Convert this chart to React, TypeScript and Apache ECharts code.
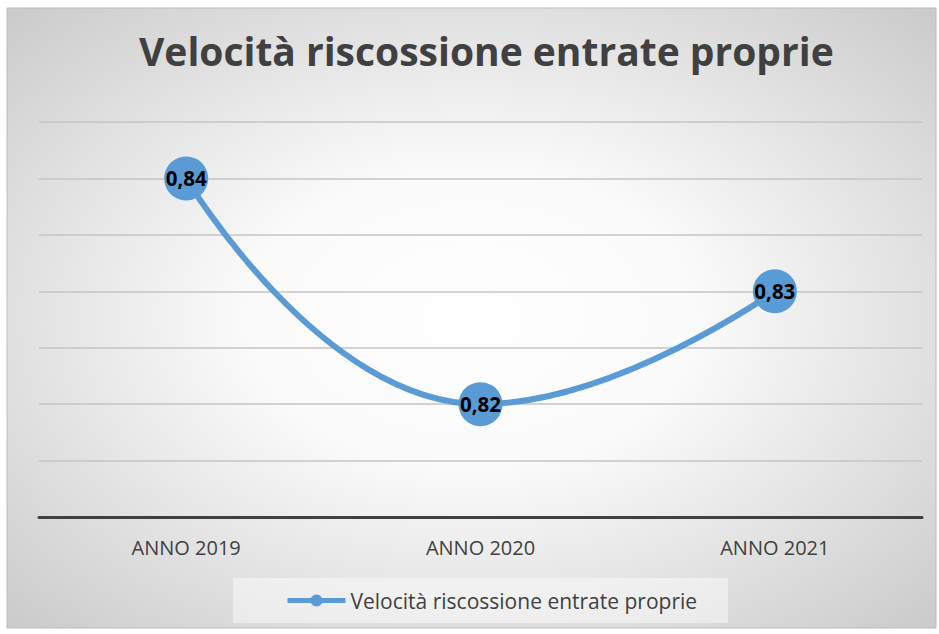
import React, { useEffect, useRef } from "react";
import * as echarts from "echarts";

const categories = ["ANNO 2019", "ANNO 2020", "ANNO 2021"];
const values = [0.84, 0.82, 0.83];
const seriesName = "Velocità riscossione entrate proprie";
const titleText = "Velocità riscossione entrate proprie";

export default function App() {
  const ref = useRef<HTMLDivElement>(null);
  useEffect(() => {
    document.body.style.margin = "0";
    const chart = echarts.init(ref.current!, null, { renderer: "svg" });
    const font = "'Open Sans', sans-serif";
    chart.setOption({
      animation: false,
      backgroundColor: "#ffffff",
      graphic: [
        {
          type: "rect",
          z: -10,
          silent: true,
          shape: { x: 7, y: 8, width: 929, height: 620 },
          style: {
            fill: {
              type: "radial",
              x: 0.5,
              y: 0.5,
              r: 0.7,
              colorStops: [
                { offset: 0, color: "#ffffff" },
                { offset: 0.35, color: "#fafafa" },
                { offset: 1, color: "#cbcbcb" },
              ],
              global: false,
            },
            stroke: "#bdbdbd",
            lineWidth: 1,
          },
        },
        {
          type: "rect",
          z: -5,
          silent: true,
          shape: { x: 233, y: 578, width: 495, height: 45 },
          style: { fill: "rgba(255,255,255,0.45)" },
        },
      ],
      title: {
        text: titleText,
        left: 134,
        top: 26,
        textStyle: {
          fontFamily: font,
          fontWeight: "bold",
          fontSize: 39,
          color: "#404040",
        },
      },
      grid: { left: 39, right: 17, top: 122, bottom: 117 },
      legend: {
        data: [seriesName],
        bottom: 18,
        left: 280,
        itemWidth: 58,
        itemHeight: 15,
        itemGap: 2,
        lineStyle: { width: 5 },
        textStyle: { fontFamily: font, fontSize: 21, color: "#404040" },
      },
      xAxis: {
        type: "category",
        data: categories,
        boundaryGap: true,
        axisLine: { lineStyle: { color: "#404040", width: 3 } },
        axisTick: { show: false },
        axisLabel: {
          margin: 20,
          fontFamily: font,
          fontSize: 20,
          color: "#404040",
        },
      },
      yAxis: {
        type: "value",
        min: 0.81,
        max: 0.845,
        interval: 0.005,
        axisLabel: { show: false },
        axisLine: { show: false },
        axisTick: { show: false },
        splitLine: { lineStyle: { color: "#c4c4c4", width: 1.5 } },
      },
      series: [
        {
          name: seriesName,
          type: "line",
          data: values,
          smooth: 0.5,
          symbol: "circle",
          symbolSize: 44,
          itemStyle: { color: "#5B9BD5" },
          lineStyle: { color: "#5B9BD5", width: 6 },
          label: {
            show: true,
            position: "inside",
            fontFamily: font,
            fontWeight: "bold",
            fontSize: 20.5,
            color: "#000000",
            formatter: (p: any) => String(p.value).replace(".", ","),
          },
        },
      ],
    });
    return () => chart.dispose();
  }, []);
  return (
    <div
      ref={ref}
      style={{ position: "absolute", left: 0, top: 0, width: 939, height: 634 }}
    />
  );
}
